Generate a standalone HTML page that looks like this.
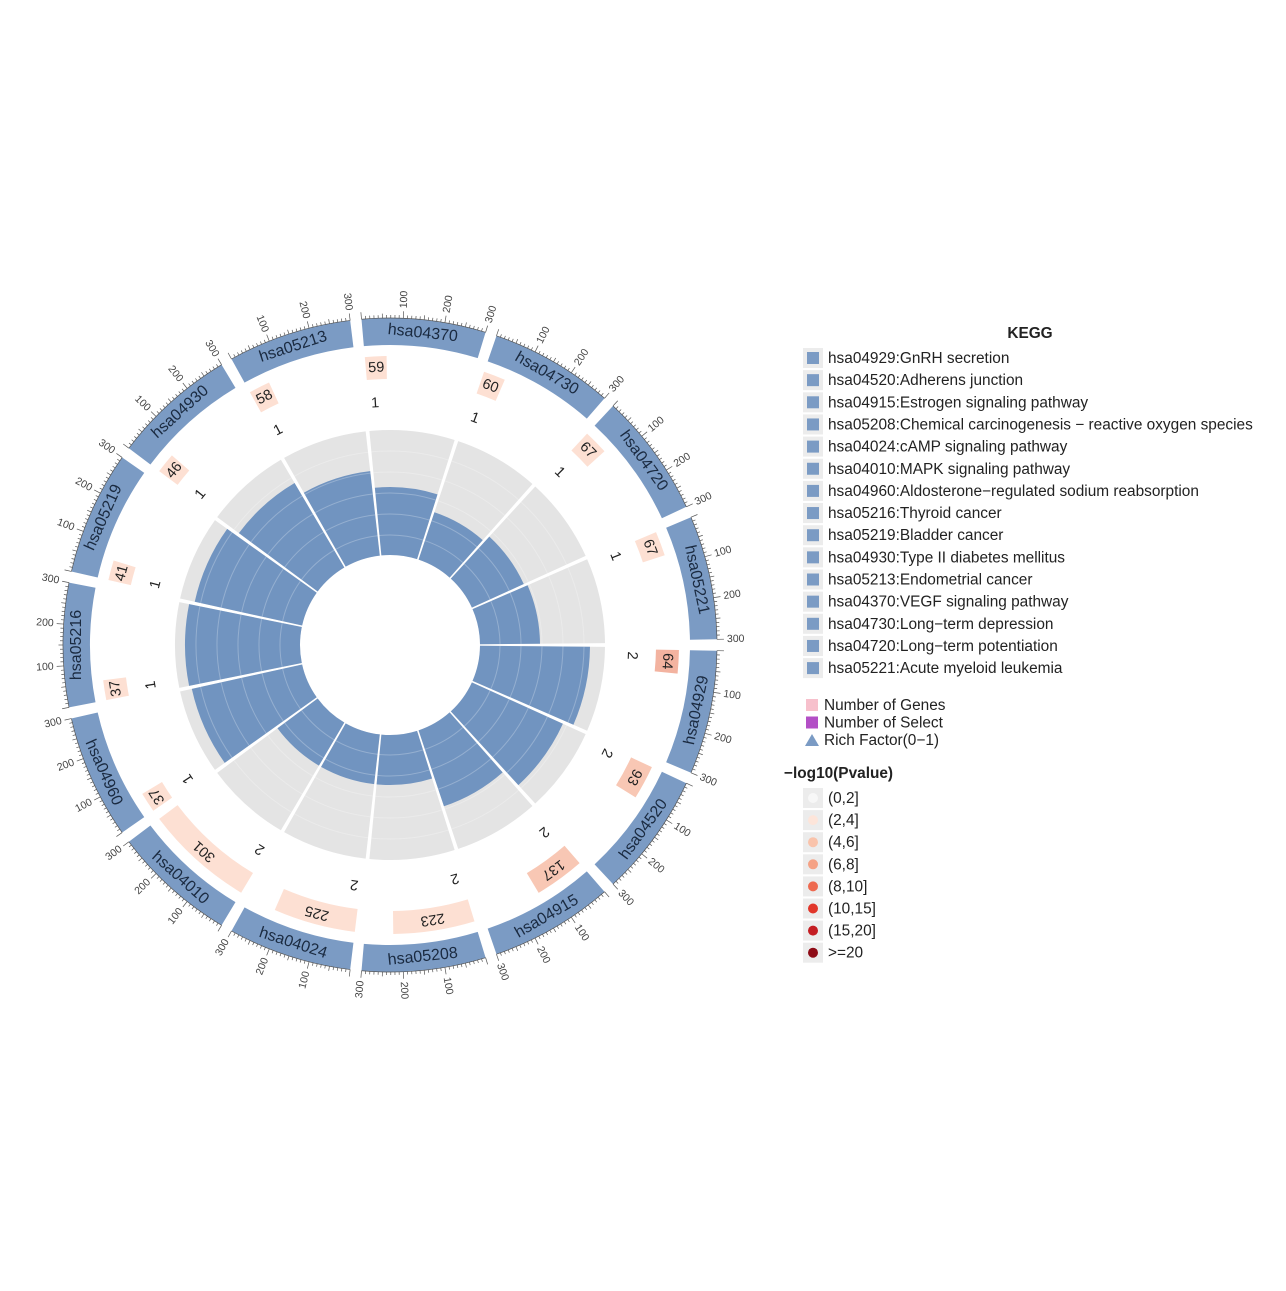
<!DOCTYPE html><html><head><meta charset="utf-8"><style>
body{margin:0;background:#fff;width:1286px;height:1286px;overflow:hidden;font-family:"Liberation Sans",sans-serif}
svg text{font-family:"Liberation Sans",sans-serif}
</style></head><body>
<svg id="s" width="1286" height="1286" xmlns="http://www.w3.org/2000/svg">
<g id="c"></g>
<g font-size="15.4" fill="#222">
<text x="1030" y="338" text-anchor="middle" font-weight="bold">KEGG</text>
<g id="leg"></g>
</g>
</svg>
<script>
const cx=390,cy=645,NS="http://www.w3.org/2000/svg";
const g=document.getElementById('c');
function el(t,a,txt){const e=document.createElementNS(NS,t);for(const k in a)e.setAttribute(k,a[k]);if(txt!==undefined)e.textContent=txt;return e;}
function pt(r,a){const d=a*Math.PI/180;return [cx+r*Math.cos(d),cy+r*Math.sin(d)];}
function arc(r1,r2,a1,a2){const [x1,y1]=pt(r2,a1),[x2,y2]=pt(r2,a2),[x3,y3]=pt(r1,a2),[x4,y4]=pt(r1,a1);const l=(a2-a1)>180?1:0;
return `M${x1},${y1}A${r2},${r2} 0 ${l} 1 ${x2},${y2}L${x3},${y3}A${r1},${r1} 0 ${l} 0 ${x4},${y4}Z`;}
const ids=["hsa04929","hsa04520","hsa04915","hsa05208","hsa04024","hsa04010","hsa04960","hsa05216","hsa05219","hsa04930","hsa05213","hsa04370","hsa04730","hsa04720","hsa05221"];
const genes=[64,93,137,223,225,301,37,37,41,46,58,59,60,67,67];
const sel=[2,2,2,2,2,2,1,1,1,1,1,1,1,1,1];
const blue=[200,190,170,140,140,140,203,205,200,188,175,158,140,147,150];
const gap=2;
for(let i=0;i<15;i++){
 const a1=i*24+gap/2,a2=(i+1)*24-gap/2,am=(a1+a2)/2,sp=a2-a1;
 g.appendChild(el('path',{d:arc(300,327,a1,a2),fill:'#7b9bc4'}));
 const [lx,ly]=pt(313.5,am);let rot=(am>0&&am<180)?am-90:am+90;
 g.appendChild(el('text',{x:lx,y:ly,'font-size':16,fill:'#1a2a40','text-anchor':'middle','dominant-baseline':'central',transform:`rotate(${rot},${lx},${ly})`},ids[i]));
 for(let k=0;k<=30;k++){const a=a1+sp*k/30;const L=k%10==0?7:k%5==0?4.5:3;const [x1,y1]=pt(327,a),[x2,y2]=pt(327+L,a);
  g.appendChild(el('line',{x1,y1,x2,y2,stroke:'#555','stroke-width':0.7}));
  if(k%10==0&&k>0){let [tx,ty]=pt(337,a);let left=(a>90&&a<270);
   g.appendChild(el('text',{x:tx,y:ty,'font-size':10.5,fill:'#444','text-anchor':left?'end':'start','dominant-baseline':'central',transform:`rotate(${left?a+180:a},${tx},${ty})`},String(k*10)));}}
 g.appendChild(el('path',{d:`M${pt(327,a1)}A327,327 0 0 1 ${pt(327,a2)}`,fill:'none',stroke:'#555','stroke-width':0.7}));
 const gw=Math.min(genes[i]/300*sp,sp);
 const dark=i<3;
 g.appendChild(el('path',{d:arc(266,289,a1,a1+Math.max(gw,4)),fill:i==0?'#f3b3a0':(dark?'#f8c7b4':'#fde0d3')}));
 const ga=a1+Math.max(gw,4)/2;const [gx,gy]=pt(277.5,ga);
 g.appendChild(el('text',{x:gx,y:gy,'font-size':14.5,fill:'#222','text-anchor':'middle','dominant-baseline':'central',transform:`rotate(${ga+90},${gx},${gy})`},String(genes[i])));
 const [sx,sy]=pt(242,a1+1.5);
 g.appendChild(el('text',{x:sx,y:sy,'font-size':14.5,fill:'#222','text-anchor':'middle','dominant-baseline':'central',transform:`rotate(${a1+1.5+90},${sx},${sy})`},String(sel[i])));
 g.appendChild(el('path',{d:arc(90,215,i*24+0.5,(i+1)*24-0.5),fill:'#e4e4e4'}));
 g.appendChild(el('path',{d:arc(90,blue[i],i*24+0.5,(i+1)*24-0.5),fill:'#7194c0'}));
 for(let r=110;r<215;r+=21){g.appendChild(el('path',{d:`M${pt(r,i*24+0.5)}A${r},${r} 0 0 1 ${pt(r,(i+1)*24-0.5)}`,fill:'none',stroke:'#fff','stroke-opacity':0.25,'stroke-width':1}));}
}
const names=["hsa04929:GnRH secretion","hsa04520:Adherens junction","hsa04915:Estrogen signaling pathway","hsa05208:Chemical carcinogenesis − reactive oxygen species","hsa04024:cAMP signaling pathway","hsa04010:MAPK signaling pathway","hsa04960:Aldosterone−regulated sodium reabsorption","hsa05216:Thyroid cancer","hsa05219:Bladder cancer","hsa04930:Type II diabetes mellitus","hsa05213:Endometrial cancer","hsa04370:VEGF signaling pathway","hsa04730:Long−term depression","hsa04720:Long−term potentiation","hsa05221:Acute myeloid leukemia"];
const L=document.getElementById('leg');
names.forEach((n,i)=>{const y=358+i*22.15;L.appendChild(el('rect',{x:803,y:y-10,width:20,height:20,fill:'#ececec'}));
L.appendChild(el('rect',{x:807,y:y-6,width:12,height:12,fill:'#7b9bc4'}));L.appendChild(el('text',{x:828,y:y+5},n));});
[["Number of Genes",'#f7c0cc','s'],["Number of Select",'#b34fc6','s'],["Rich Factor(0−1)",'#7b9bc4','t']].forEach((d,i)=>{const y=705+i*17.5;
 if(d[2]=='s')L.appendChild(el('rect',{x:806,y:y-6,width:12,height:12,fill:d[1]}));else L.appendChild(el('path',{d:`M${805},${y+6}L${812},${y-6}L${819},${y+6}Z`,fill:d[1]}));
 L.appendChild(el('text',{x:824,y:y+5},d[0]));});
L.appendChild(el('text',{x:784,y:778,'font-weight':'bold'},"−log10(Pvalue)"));
[["(0,2]",'#f7f7f7'],["(2,4]",'#fde5da'],["(4,6]",'#f9c3ab'],["(6,8]",'#f5a285'],["(8,10]",'#ee6a50'],["(10,15]",'#e1362a'],["(15,20]",'#c41d22'],[">=20",'#8e0b16']].forEach((d,i)=>{const y=798+i*22.1;
 L.appendChild(el('rect',{x:803,y:y-10,width:20,height:20,fill:'#ececec'}));L.appendChild(el('circle',{cx:813,cy:y,r:5,fill:d[1]}));L.appendChild(el('text',{x:828,y:y+5},d[0]));});
</script>
</body></html>
